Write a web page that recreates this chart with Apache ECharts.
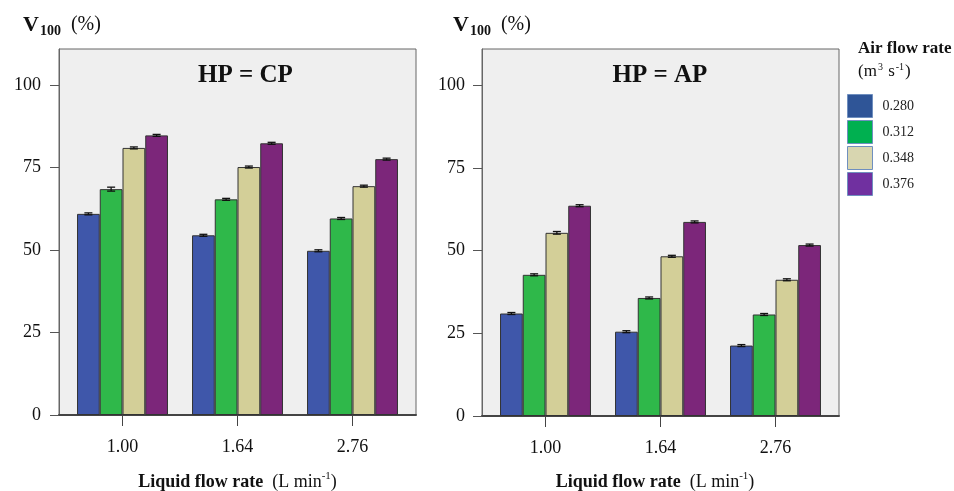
<!DOCTYPE html>
<html>
<head>
<meta charset="utf-8">
<script src="https://cdn.jsdelivr.net/npm/echarts@6/dist/echarts.min.js"></script>
<style>
html,body{margin:0;padding:0;background:#fff;}
#chart{width:954px;height:491px;}
</style>
</head>
<body>
<div id="chart"></div>
<script>
// ---------- data ----------
const categories = ['1.00', '1.64', '2.76'];
const seriesNames = ['0.280', '0.312', '0.348', '0.376'];
const yTicks = [0, 25, 50, 75, 100];

// HP = CP panel
const cp280 = [61.0, 54.5, 49.8];
const cp312 = [68.5, 65.4, 59.6];
const cp348 = [81.0, 75.2, 69.4];
const cp376 = [84.8, 82.4, 77.6];
const cpErr280 = [0.3, 0.3, 0.3];
const cpErr312 = [0.6, 0.3, 0.3];
const cpErr348 = [0.3, 0.3, 0.3];
const cpErr376 = [0.3, 0.3, 0.3];

// HP = AP panel
const ap280 = [31.0, 25.5, 21.3];
const ap312 = [42.7, 35.7, 30.7];
const ap348 = [55.4, 48.3, 41.2];
const ap376 = [63.6, 58.7, 51.7];
const apErr280 = [0.3, 0.3, 0.3];
const apErr312 = [0.3, 0.3, 0.3];
const apErr348 = [0.4, 0.3, 0.3];
const apErr376 = [0.3, 0.3, 0.3];

// ---------- style ----------
const FONT = "'Liberation Serif', 'Times New Roman', serif";
const barColors = ['#3f57aa', '#2fb84a', '#d3cf98', '#7c267a'];
const legendColors = ['#2f5597', '#00b050', '#d8d6b0', '#7030a0'];
const CAT_GAP = 0.209;
const Y_MAX = 111;

const cpVals = [cp280, cp312, cp348, cp376];
const cpErrs = [cpErr280, cpErr312, cpErr348, cpErr376];
const apVals = [ap280, ap312, ap348, ap376];
const apErrs = [apErr280, apErr312, apErr348, apErr376];

function frameX(gi) {
  return {
    gridIndex: gi, type: 'value', min: 0, max: 1,
    axisLine: { show: true, onZero: false, lineStyle: { color: '#444', width: 2 } },
    axisTick: { show: false }, axisLabel: { show: false }, splitLine: { show: false }
  };
}
function frameY(gi, margin) {
  return {
    gridIndex: gi, type: 'value', min: 0, max: Y_MAX,
    axisLine: { show: true, lineStyle: { color: '#666', width: 1 } },
    axisTick: { show: true, inside: false, length: 9, customValues: yTicks, lineStyle: { color: '#555', width: 1 } },
    axisLabel: { show: true, customValues: yTicks, margin: margin, fontSize: 18, fontFamily: FONT, color: '#111' },
    splitLine: { show: false }
  };
}
function dataX(gi) {
  return {
    gridIndex: gi, type: 'category', data: categories,
    axisLine: { show: false },
    axisTick: { show: true, alignWithLabel: true, length: 11, lineStyle: { color: '#444', width: 1 } },
    axisLabel: { fontSize: 18, fontFamily: FONT, color: '#111', margin: 23 },
    splitLine: { show: false }
  };
}
function dataY(gi) {
  return {
    gridIndex: gi, type: 'value', min: 0, max: Y_MAX, show: false,
    splitLine: { show: false }
  };
}

function barSeries(vals, axisIdx) {
  return vals.map((v, i) => ({
    name: seriesNames[i], type: 'bar', xAxisIndex: axisIdx, yAxisIndex: axisIdx,
    data: v, barGap: '0%', barCategoryGap: (CAT_GAP * 100) + '%',
    itemStyle: { color: barColors[i], borderColor: '#333', borderWidth: 1 },
    z: 2
  }));
}

function errSeries(vals, errs, axisIdx) {
  const data = [];
  vals.forEach((v, s) => {
    v.forEach((val, c) => data.push([c, val, errs[s][c], s]));
  });
  return {
    type: 'custom', xAxisIndex: axisIdx, yAxisIndex: axisIdx, z: 5,
    encode: { x: 0, y: 1 },
    data: data,
    renderItem: function (params, api) {
      const c = api.value(0), val = api.value(1), e = api.value(2), s = api.value(3);
      const center = api.coord([c, val]);
      const band = api.size([1, 0])[0];
      const group = band * (1 - CAT_GAP);
      const bw = group / 4;
      const x = center[0] - group / 2 + bw * (s + 0.5);
      const yt = api.coord([c, val + e])[1];
      const yb = api.coord([c, val - e])[1];
      const h = 4;
      const st = { stroke: '#111', lineWidth: 1.3 };
      return {
        type: 'group',
        children: [
          { type: 'line', shape: { x1: x, y1: yt, x2: x, y2: yb }, style: st },
          { type: 'line', shape: { x1: x - h, y1: yt, x2: x + h, y2: yt }, style: st },
          { type: 'line', shape: { x1: x - h, y1: yb, x2: x + h, y2: yb }, style: st }
        ]
      };
    }
  };
}

function vLabel(x) {
  return {
    type: 'text', x: x, y: 12, z: 10,
    style: {
      text: '{v|V}{s|100}{p|(%)}',
      fill: '#111',
      rich: {
        v: { fontSize: 22, fontWeight: 'bold', fontFamily: FONT, lineHeight: 26, fill: '#111' },
        s: { fontSize: 14, fontWeight: 'bold', fontFamily: FONT, lineHeight: 12, verticalAlign: 'bottom', fill: '#111', padding: [0, 0, 0, 1] },
        p: { fontSize: 20, fontFamily: FONT, lineHeight: 26, fill: '#111', padding: [0, 0, 0, 10] }
      }
    }
  };
}
function xName(cx) {
  return {
    type: 'text', x: cx, y: 482, z: 10,
    style: {
      text: '{b|Liquid flow rate}{n|  (L min}{u|-1}{n|)}',
      align: 'center', verticalAlign: 'middle', fill: '#111',
      rich: {
        b: { fontSize: 18, fontWeight: 'bold', fontFamily: FONT, lineHeight: 22, fill: '#111' },
        n: { fontSize: 18, fontFamily: FONT, lineHeight: 22, fill: '#111' },
        u: { fontSize: 11, fontFamily: FONT, lineHeight: 11, verticalAlign: 'top', fill: '#111' }
      }
    }
  };
}
function panelTitle(cx, txt) {
  return {
    type: 'text', x: cx, y: 75.5, z: 10,
    style: {
      text: txt, align: 'center', verticalAlign: 'middle',
      font: 'bold 25px ' + FONT, fill: '#111'
    }
  };
}

const option = {
  animation: false,
  backgroundColor: '#ffffff',
  grid: [
    { left: 59, top: 49, width: 357, height: 366, show: true, backgroundColor: '#efefef', borderColor: '#666', borderWidth: 1, z: 0 },
    { left: 65, top: 49, width: 345, height: 366 },
    { left: 482, top: 49, width: 357, height: 367, show: true, backgroundColor: '#efefef', borderColor: '#666', borderWidth: 1, z: 0 },
    { left: 488, top: 49, width: 345, height: 367 }
  ],
  xAxis: [frameX(0), dataX(1), frameX(2), dataX(3)],
  yAxis: [frameY(0, 18), dataY(1), frameY(2, 17), dataY(3)],
  legend: {
    orient: 'vertical', left: 847, top: 94, padding: 0,
    itemWidth: 25, itemHeight: 23, itemGap: 2, icon: 'rect',
    selectedMode: false,
    textStyle: { fontSize: 14, fontFamily: FONT, color: '#222', padding: [0, 0, 0, 5] },
    data: seriesNames.map((n, i) => ({
      name: n,
      itemStyle: { color: legendColors[i], borderColor: '#6f8fbf', borderWidth: 1 }
    }))
  },
  graphic: [
    vLabel(23), vLabel(453),
    panelTitle(245.5, 'HP = CP'), panelTitle(660, 'HP = AP'),
    xName(237.5), xName(655),
    { type: 'text', x: 858, y: 49, z: 10, style: { text: 'Air flow rate', verticalAlign: 'middle', font: 'bold 17px ' + FONT, fill: '#111' } },
    {
      type: 'text', x: 858, y: 72, z: 10,
      style: {
        text: '{n|(m}{u|3}{n| s}{u|-1}{n|)}', verticalAlign: 'middle', fill: '#111',
        rich: {
          n: { fontSize: 17, fontFamily: FONT, lineHeight: 20, fill: '#111' },
          u: { fontSize: 10, fontFamily: FONT, lineHeight: 10, verticalAlign: 'top', fill: '#111', padding: [0, 1, 0, 1] }
        }
      }
    }
  ],
  series: [].concat(
    barSeries(cpVals, 1),
    [errSeries(cpVals, cpErrs, 1)],
    barSeries(apVals, 3),
    [errSeries(apVals, apErrs, 3)]
  )
};

const chart = echarts.init(document.getElementById('chart'), null, { renderer: 'canvas' });
chart.setOption(option);
</script>
</body>
</html>
